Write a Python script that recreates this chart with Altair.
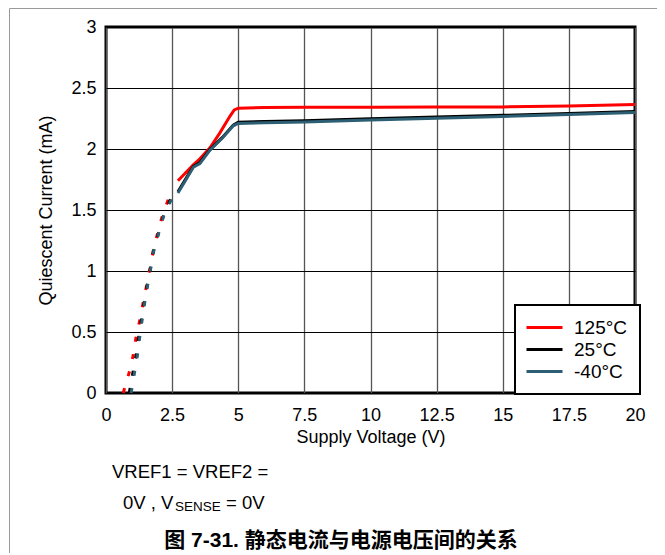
import altair as alt
import pandas as pd

# ---- data ----
SERIES = ["125°C", "25°C", "-40°C"]
COLORS = ["#ff0000", "#000000", "#2c5f73"]

# dashed (low-voltage) part
V_DASH_125 = [0.65, 0.88, 1.03, 1.13, 1.27, 1.40, 1.53, 1.66, 1.78, 1.94, 2.12, 2.36]
I_DASH_125 = [0.0, 0.17, 0.31, 0.45, 0.59, 0.735, 0.877, 1.02, 1.16, 1.30, 1.445, 1.59]
V_DASH_25 = [0.88, 1.02, 1.14, 1.23, 1.33, 1.44, 1.55, 1.68, 1.79, 1.97, 2.16, 2.44]
I_DASH_25 = [0.0, 0.17, 0.31, 0.45, 0.59, 0.735, 0.877, 1.02, 1.16, 1.30, 1.445, 1.59]
V_DASH_M40 = [0.95, 1.08, 1.19, 1.27, 1.36, 1.46, 1.57, 1.69, 1.80, 1.98, 2.17, 2.48]
I_DASH_M40 = [0.0, 0.17, 0.31, 0.45, 0.59, 0.735, 0.877, 1.02, 1.16, 1.30, 1.445, 1.59]

# solid part
V_SOLID_125 = [2.72, 3.3, 3.55, 3.93, 4.3, 4.69, 4.85, 5.0, 6.0, 7.5, 10, 12.5, 15, 17.5, 20]
I_SOLID_125 = [1.74, 1.87, 1.92, 2.01, 2.13, 2.27, 2.32, 2.335, 2.34, 2.342, 2.343, 2.344, 2.345, 2.352, 2.365]
V_SOLID_25 = [2.72, 3.0, 3.3, 3.55, 3.93, 4.4, 4.81, 5.0, 6.0, 7.5, 10, 12.5, 15, 17.5, 20]
I_SOLID_25 = [1.65, 1.75, 1.855, 1.89, 1.995, 2.095, 2.195, 2.22, 2.225, 2.232, 2.248, 2.262, 2.276, 2.29, 2.308]
V_SOLID_M40 = [2.72, 3.0, 3.3, 3.55, 3.93, 4.4, 4.81, 5.0, 6.0, 7.5, 10, 12.5, 15, 17.5, 20]
I_SOLID_M40 = [1.64, 1.74, 1.85, 1.88, 1.99, 2.09, 2.19, 2.21, 2.215, 2.222, 2.238, 2.252, 2.267, 2.283, 2.30]

X_TICKS = [0, 2.5, 5, 7.5, 10, 12.5, 15, 17.5, 20]
Y_TICKS = [0, 0.5, 1, 1.5, 2, 2.5, 3]

X_TITLE = "Supply Voltage (V)"
Y_TITLE = "Quiescent Current (mA)"
NOTE_1 = "VREF1 = VREF2 ="
NOTE_2A = "0V , V"
NOTE_2B = "SENSE"
NOTE_2C = "= 0V"
CAPTION = "图 7-31. 静态电流与电源电压间的关系"

FONT = "Liberation Sans, Arial, Helvetica, sans-serif"

def frame(vs, is_, name, order):
    return pd.DataFrame({"V": vs, "I": is_, "series": name, "k": order})

solid = pd.concat([
    frame(V_SOLID_125, I_SOLID_125, SERIES[0], 0),
    frame(V_SOLID_25, I_SOLID_25, SERIES[1], 1),
    frame(V_SOLID_M40, I_SOLID_M40, SERIES[2], 2),
])
dash = pd.concat([
    frame(V_DASH_125, I_DASH_125, SERIES[0], 0),
    frame(V_DASH_25, I_DASH_25, SERIES[1], 1),
    frame(V_DASH_M40, I_DASH_M40, SERIES[2], 2),
])

W, H = 529, 366

x_enc = alt.X("V:Q", scale=alt.Scale(domain=[0, 20], nice=False, zero=False),
              axis=alt.Axis(values=X_TICKS, title=X_TITLE, labelExpr="'' + datum.value",
                            labelFlush=False, labelPadding=13, titlePadding=4,
                            gridColor="#555555", gridWidth=1.3))
y_enc = alt.Y("I:Q", scale=alt.Scale(domain=[0, 3], nice=False),
              axis=alt.Axis(values=Y_TICKS, title=Y_TITLE, labelExpr="'' + datum.value",
                            labelFlush=False, labelPadding=10, titlePadding=15,
                            gridColor="#000000", gridWidth=1))
color_enc = alt.Color("series:N", scale=alt.Scale(domain=SERIES, range=COLORS),
                      sort=SERIES,
                      legend=alt.Legend(title=None, orient="none", legendX=409, legendY=278,
                                        symbolType="M-2,0H2", symbolSize=324, symbolStrokeWidth=3,
                                        symbolOffset=7,
                                        labelFontSize=19, labelFont=FONT, labelColor="black",
                                        labelOffset=19, padding=12, rowPadding=1,
                                        strokeColor="black", fillColor="white", cornerRadius=0))

solid_layer = alt.Chart(solid).mark_line(strokeWidth=3).encode(
    x=x_enc, y=y_enc, color=color_enc, order=alt.Order("V:Q"))
dash_layer = alt.Chart(dash).mark_line(strokeWidth=3, strokeDash=[5, 12.6], strokeCap="butt").encode(
    x=x_enc, y=y_enc, color=color_enc, order=alt.Order("V:Q"))

one = alt.Data(values=[{"a": 1}])
border = alt.Chart(one).mark_rect(fillOpacity=0, stroke="#9a9a9a", strokeWidth=1).encode(
    x=alt.value(-96.5), y=alt.value(-18.5), x2=alt.value(W + 200), y2=alt.value(H + 300))

def txt(s, x, y, size, weight="normal", font=FONT, align="left"):
    return alt.Chart(alt.Data(values=[{"t": s}])).mark_text(
        align=align, baseline="alphabetic", fontSize=size, fontWeight=weight, font=font, color="black"
    ).encode(text="t:N", x=alt.value(x), y=alt.value(y))

notes = (
    txt(NOTE_1, 6, 451, 18.5)
    + txt(NOTE_2A, 17, 482, 18.5)
    + txt(NOTE_2B, 69, 484, 13.5)
    + txt(NOTE_2C, 120, 482, 18.5)
    + txt(CAPTION, 235, 520, 21, weight="bold",
          font="Liberation Sans, Noto Sans CJK SC, sans-serif", align="center")
)

chart = alt.layer(border, solid_layer, dash_layer, notes).properties(
    width=W, height=H,
    autosize=alt.AutoSizeParams(type="none"),
    padding={"left": 98, "top": 19, "right": 22, "bottom": 160},
).configure_view(stroke="black", strokeWidth=3).configure_axis(
    labelFont=FONT, labelFontSize=18, labelColor="black",
    titleFont=FONT, titleFontSize=18, titleFontWeight="normal", titleColor="black",
    ticks=False, domain=False, grid=True,
).configure_legend(strokeWidth=2)

chart.save("out.html", embed_options={"renderer": "svg", "actions": False})
